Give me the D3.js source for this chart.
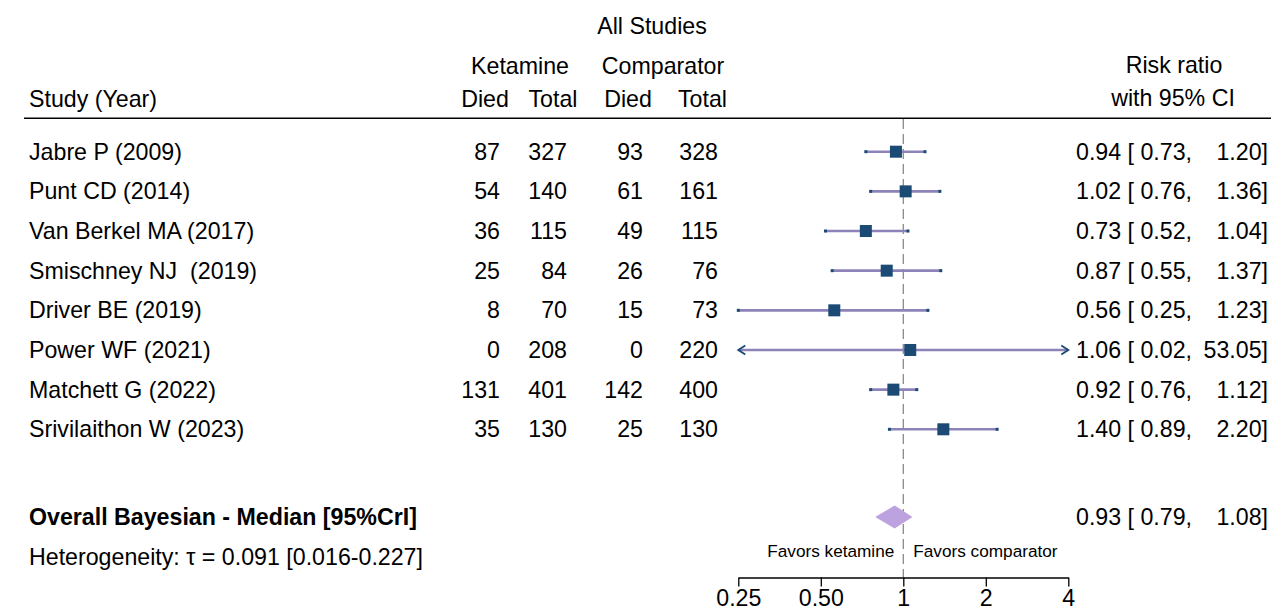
<!DOCTYPE html>
<html>
<head>
<meta charset="utf-8">
<script src="https://cdn.jsdelivr.net/npm/d3@7/dist/d3.min.js"></script>
<style>
  html, body { margin: 0; padding: 0; background: #fff; }
  svg text { font-family: "Liberation Sans", Arial, Helvetica, sans-serif; fill: #000; white-space: pre; }
</style>
</head>
<body>
<svg id="chart" width="1271" height="608"></svg>
<script>
// ---- data ----
const studies = ["Jabre P (2009)", "Punt CD (2014)", "Van Berkel MA (2017)", "Smischney NJ  (2019)",
  "Driver BE (2019)", "Power WF (2021)", "Matchett G (2022)", "Srivilaithon W (2023)"];
const ketDied   = [87, 54, 36, 25, 8, 0, 131, 35];
const ketTotal  = [327, 140, 115, 84, 70, 208, 401, 130];
const compDied  = [93, 61, 49, 26, 15, 0, 142, 25];
const compTotal = [328, 161, 115, 76, 73, 220, 400, 130];
const rr    = [0.94, 1.02, 0.73, 0.87, 0.56, 1.06, 0.92, 1.40];
const rrLo  = [0.73, 0.76, 0.52, 0.55, 0.25, 0.02, 0.76, 0.89];
const rrHi  = [1.20, 1.36, 1.04, 1.37, 1.23, 53.05, 1.12, 2.20];
const overall = { est: 0.93, lo: 0.79, hi: 1.08 };
const tickValues = [0.25, 0.5, 1, 2, 4];
const tickLabels = ["0.25", "0.50", "1", "2", "4"];
const heterogeneityText = "Heterogeneity: \u03C4 = 0.091 [0.016-0.227]";
const overallLabel = "Overall Bayesian - Median [95%CrI]";

// ---- scales ----
const svg = d3.select("#chart");
const x = d3.scaleLog().base(2).domain([0.25, 4]).range([738.3, 1068.3]);
const y = d3.scaleLinear().domain([0, 7]).range([151.7, 429.3]);
const overallIdx = 9.21;
const FS = 23.2;
const fmt = d3.format(".2f");

const colSquare = "#1b4a75";
const colCI = "#8d83b9";
const colDiamond = "#bca2de";

// ---- header ----
const hdr = svg.append("g").style("font-size", FS + "px");
hdr.append("text").attr("x", 652).attr("y", 34).attr("text-anchor", "middle").text("All Studies");
hdr.append("text").attr("x", 520).attr("y", 74).attr("text-anchor", "middle").text("Ketamine");
hdr.append("text").attr("x", 663).attr("y", 74).attr("text-anchor", "middle").text("Comparator");
[["Died", 485], ["Total", 553], ["Died", 628], ["Total", 702.5]].forEach(([t, cx]) =>
  hdr.append("text").attr("x", cx).attr("y", 107).attr("text-anchor", "middle").text(t));
hdr.append("text").attr("x", 29).attr("y", 107).text("Study (Year)");
hdr.append("text").attr("x", 1174).attr("y", 73).attr("text-anchor", "middle").text("Risk ratio");
hdr.append("text").attr("x", 1173).attr("y", 106).attr("text-anchor", "middle").text("with 95% CI");
svg.append("line").attr("x1", 24).attr("x2", 1271).attr("y1", 118.3).attr("y2", 118.3)
  .attr("stroke", "#000").attr("stroke-width", 1.5);

// ---- reference line ----
svg.append("line").attr("x1", x(1)).attr("x2", x(1)).attr("y1", 119).attr("y2", 577.5)
  .attr("stroke", "#8a8a8a").attr("stroke-width", 1.3).attr("stroke-dasharray", "10,5");

// ---- table rows ----
const rows = svg.append("g").style("font-size", FS + "px");
studies.forEach((s, i) => {
  const by = y(i) + 8;
  rows.append("text").attr("x", 29).attr("y", by).text(s);
  rows.append("text").attr("x", 500).attr("y", by).attr("text-anchor", "end").text(ketDied[i]);
  rows.append("text").attr("x", 567).attr("y", by).attr("text-anchor", "end").text(ketTotal[i]);
  rows.append("text").attr("x", 643).attr("y", by).attr("text-anchor", "end").text(compDied[i]);
  rows.append("text").attr("x", 718).attr("y", by).attr("text-anchor", "end").text(compTotal[i]);
  rows.append("text").attr("x", 1076).attr("y", by).text(fmt(rr[i]) + " [ " + fmt(rrLo[i]) + ",");
  rows.append("text").attr("x", 1268).attr("y", by).attr("text-anchor", "end").text(fmt(rrHi[i]) + "]");
});

// ---- CI lines, squares ----
const [dmin, dmax] = x.domain();
const marks = svg.append("g");
studies.forEach((s, i) => {
  const cy = y(i);
  const lo = Math.max(rrLo[i], dmin), hi = Math.min(rrHi[i], dmax);
  const x1 = x(lo), x2 = x(hi);
  marks.append("line").attr("x1", x1).attr("x2", x2).attr("y1", cy).attr("y2", cy)
    .attr("stroke", colCI).attr("stroke-width", 2.6);
  if (rrLo[i] < dmin) {
    marks.append("path").attr("d", `M${x1 + 7},${cy - 4.5} L${x1},${cy} L${x1 + 7},${cy + 4.5}`)
      .attr("fill", "none").attr("stroke", colSquare).attr("stroke-width", 1.8);
  } else {
    marks.append("rect").attr("x", x1 - 1.5).attr("y", cy - 1.5).attr("width", 3).attr("height", 3).attr("fill", colSquare);
  }
  if (rrHi[i] > dmax) {
    marks.append("path").attr("d", `M${x2 - 7},${cy - 4.5} L${x2},${cy} L${x2 - 7},${cy + 4.5}`)
      .attr("fill", "none").attr("stroke", colSquare).attr("stroke-width", 1.8);
  } else {
    marks.append("rect").attr("x", x2 - 1.5).attr("y", cy - 1.5).attr("width", 3).attr("height", 3).attr("fill", colSquare);
  }
  marks.append("rect").attr("x", x(rr[i]) - 6).attr("y", cy - 6).attr("width", 12).attr("height", 12)
    .attr("fill", colSquare);
});

// ---- overall ----
const oy = y(overallIdx);
svg.append("path")
  .attr("d", `M${x(overall.lo)},${oy} L${x(overall.est)},${oy - 11.5} L${x(overall.hi)},${oy} L${x(overall.est)},${oy + 11.5} Z`)
  .attr("fill", colDiamond);
svg.append("text").attr("x", 29).attr("y", oy + 8).style("font-size", FS + "px").style("font-weight", "bold")
  .text(overallLabel);
svg.append("text").attr("x", 1076).attr("y", oy + 8).style("font-size", FS + "px")
  .text(fmt(overall.est) + " [ " + fmt(overall.lo) + ",");
svg.append("text").attr("x", 1268).attr("y", oy + 8).attr("text-anchor", "end").style("font-size", FS + "px")
  .text(fmt(overall.hi) + "]");
svg.append("text").attr("x", 29).attr("y", 565).style("font-size", FS + "px").text(heterogeneityText);

// ---- favors ----
svg.append("text").attr("x", x(1) - 9).attr("y", 556.5).attr("text-anchor", "end").style("font-size", "17.2px").text("Favors ketamine");
svg.append("text").attr("x", x(1) + 10).attr("y", 556.5).style("font-size", "17.2px").text("Favors comparator");

// ---- axis ----
const axis = d3.axisBottom(x).tickValues(tickValues).tickFormat((d, i) => tickLabels[i])
  .tickSize(9).tickSizeOuter(0).tickPadding(3);
const ag = svg.append("g").attr("transform", "translate(0,577.5)").call(axis);
ag.select(".domain").attr("stroke", "#000").attr("stroke-width", 1.3);
ag.selectAll(".tick line").attr("stroke", "#000").attr("stroke-width", 1.3);
ag.selectAll(".tick text").style("font-size", FS + "px").style("font-family", '"Liberation Sans", Arial, sans-serif').attr("fill", "#000");
</script>
</body>
</html>
